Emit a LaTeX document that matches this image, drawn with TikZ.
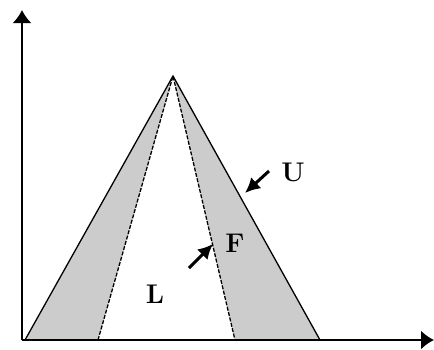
\documentclass[tikz,border=0pt]{standalone}
\usepackage{fontspec}
\usetikzlibrary{arrows.meta}
\begin{document}
\begin{tikzpicture}[x=1pt,y=-1pt,
  axis/.style={line width=2pt,-{Latex[length=13pt,width=19pt]}},
  edge/.style={line width=1.3pt},
  inner/.style={line width=1.3pt,dash pattern=on 4pt off 1.5pt},
  pointer/.style={line width=3pt,-{Latex[length=15pt,width=15pt]}},
  lab/.style={font=\fontsize{27}{29}\selectfont\bfseries,inner sep=0pt}]
  \useasboundingbox (0,0) rectangle (434,349);
  % corner points of the fuzzy triangle
  \coordinate (O) at (22,340);
  \coordinate (apex) at (173,76);
  \coordinate (ol) at (25,340);
  \coordinate (il) at (98,340);
  \coordinate (ir) at (235,340);
  \coordinate (or) at (320,340);
  % shaded bands between the outer and inner triangles
  \fill[gray!40] (ol) -- (apex) -- (il) -- cycle;
  \fill[gray!40] (ir) -- (apex) -- (or) -- cycle;
  \draw[edge] (ol) -- (apex) -- (or);
  \draw[inner] (il) -- (apex) -- (ir);
  % axes
  \draw[axis] (O) -- (22,10);
  \draw[axis] (O) -- (434,340);
  % labels with pointers
  \node[lab] (U) at (293,172) {U};
  \node[lab] (F) at (235,243) {F};
  \node[lab] (L) at (155,294) {L};
  \coordinate (utail) at (269,171);
  \coordinate (utip) at (245,193);
  \coordinate (ftail) at (189,268);
  \coordinate (ftip) at (213,244);
  \draw[pointer] (utail) -- (utip);
  \draw[pointer] (ftail) -- (ftip);
\end{tikzpicture}
\end{document}
